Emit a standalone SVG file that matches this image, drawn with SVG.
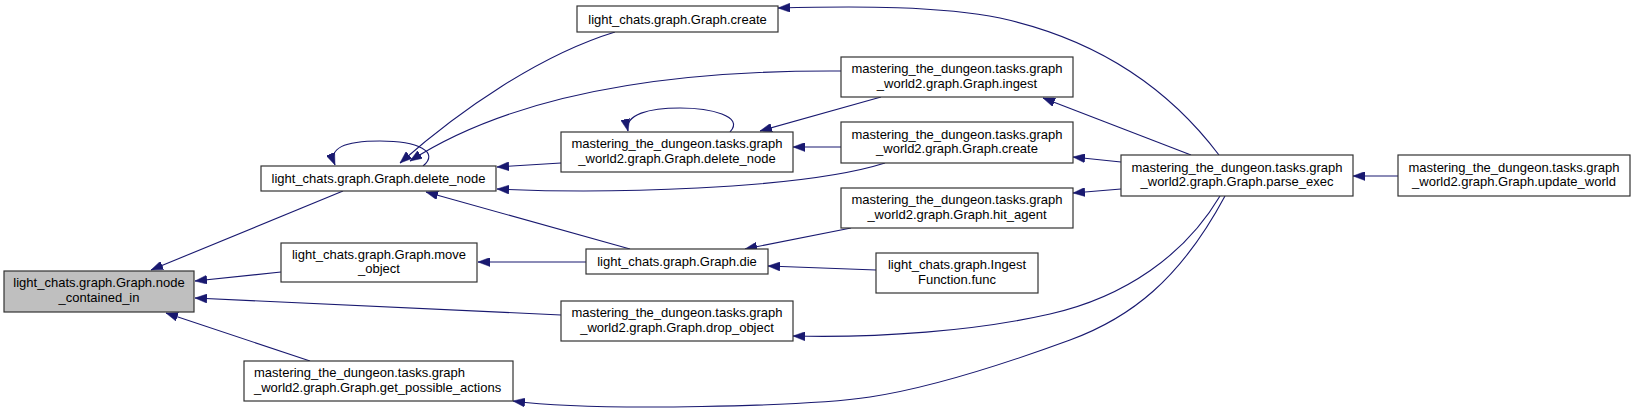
<svg xmlns="http://www.w3.org/2000/svg" width="1639" height="417" viewBox="0 0 1639 417">
<defs>
<marker id="ah" markerUnits="userSpaceOnUse" markerWidth="12" markerHeight="9" refX="12" refY="4.5" orient="auto">
<path d="M0,0 L12,4.5 L0,9 Z" fill="#191970" stroke="#191970" stroke-width="0.5"/>
</marker>
</defs>
<style>
.n rect{fill:#ffffff;stroke:#333333;stroke-width:1.2}
.n.hl rect{fill:#bfbfbf}
.n text{font-family:"Liberation Sans",Arial,sans-serif;font-size:13px;fill:#000000;text-anchor:middle}
.n text.l{text-anchor:start}
.e path{fill:none;stroke:#191970;stroke-width:1.1;marker-end:url(#ah)}
</style>
<rect width="1639" height="417" fill="#ffffff"/>
<g id="edges" class="e">
<path d="M343,191 L151,270"/>
<path d="M281,272 L195,281"/>
<path d="M561,315 L195,298"/>
<path d="M310,361 L166,313"/>
<path d="M423,166 C440,152 418,141 380,141 C344,141 328,148 335,165"/>
<path d="M615,32 C540,55 460,110 400,163"/>
<path d="M841,71 C680,70 520,90 410,161"/>
<path d="M561,163 L497,167"/>
<path d="M885,163 C800,190 600,194 497,189"/>
<path d="M630,249 L426,192"/>
<path d="M586,262 L478,262"/>
<path d="M1219,155 C1170,90 1100,40 1000,18 C940,6 860,6 778,8"/>
<path d="M730,132 C745,116 710,108 680,108 C650,108 624,114 628,131"/>
<path d="M881,97 L760,131"/>
<path d="M841,147 L793,147"/>
<path d="M1191,155 L1043,98"/>
<path d="M1121,162 L1073,157"/>
<path d="M851,228 L745,249"/>
<path d="M876,270 L768,266"/>
<path d="M1121,189 L1073,193"/>
<path d="M1220,196 C1185,255 1125,297 1050,314 C975,331 880,338 793,336"/>
<path d="M1225,196 C1180,280 1130,318 1070,340 C1010,362 930,388 870,397 C810,406 600,412 513,401"/>
<path d="M1398,176 L1353,176"/>
</g>
<g id="node_contained_in" class="n hl">
<rect x="4" y="271" width="190" height="41"/>
<text x="99" y="287">light_chats.graph.Graph.node</text>
<text x="99" y="301.5">_contained_in</text>
</g>
<g id="delete_node" class="n">
<rect x="261" y="166" width="235" height="25"/>
<text x="378.5" y="183">light_chats.graph.Graph.delete_node</text>
</g>
<g id="move_object" class="n">
<rect x="281" y="243" width="196" height="39"/>
<text x="379" y="258.5">light_chats.graph.Graph.move</text>
<text x="379" y="273">_object</text>
</g>
<g id="get_possible_actions" class="n">
<rect x="244" y="361" width="269" height="40"/>
<text class="l" x="254" y="377">mastering_the_dungeon.tasks.graph</text>
<text class="l" x="254" y="391.5">_world2.graph.Graph.get_possible_actions</text>
</g>
<g id="light_create" class="n">
<rect x="577" y="6" width="201" height="26"/>
<text x="677.5" y="23.5">light_chats.graph.Graph.create</text>
</g>
<g id="mtd_delete_node" class="n">
<rect x="561" y="132" width="232" height="40"/>
<text x="677" y="148">mastering_the_dungeon.tasks.graph</text>
<text x="677" y="162.5">_world2.graph.Graph.delete_node</text>
</g>
<g id="die" class="n">
<rect x="586" y="249" width="182" height="25"/>
<text x="677" y="266">light_chats.graph.Graph.die</text>
</g>
<g id="drop_object" class="n">
<rect x="561" y="301" width="232" height="40"/>
<text x="677" y="317">mastering_the_dungeon.tasks.graph</text>
<text x="677" y="331.5">_world2.graph.Graph.drop_object</text>
</g>
<g id="ingest" class="n">
<rect x="841" y="57" width="232" height="40"/>
<text x="957" y="73">mastering_the_dungeon.tasks.graph</text>
<text x="957" y="87.5">_world2.graph.Graph.ingest</text>
</g>
<g id="mtd_create" class="n">
<rect x="841" y="122" width="232" height="41"/>
<text x="957" y="138.5">mastering_the_dungeon.tasks.graph</text>
<text x="957" y="153">_world2.graph.Graph.create</text>
</g>
<g id="hit_agent" class="n">
<rect x="841" y="188" width="232" height="40"/>
<text x="957" y="204">mastering_the_dungeon.tasks.graph</text>
<text x="957" y="218.5">_world2.graph.Graph.hit_agent</text>
</g>
<g id="ingest_func" class="n">
<rect x="876" y="253" width="162" height="40"/>
<text x="957" y="269">light_chats.graph.Ingest</text>
<text x="957" y="283.5">Function.func</text>
</g>
<g id="parse_exec" class="n">
<rect x="1121" y="155" width="232" height="41"/>
<text x="1237" y="171.5">mastering_the_dungeon.tasks.graph</text>
<text x="1237" y="186">_world2.graph.Graph.parse_exec</text>
</g>
<g id="update_world" class="n">
<rect x="1398" y="155" width="232" height="41"/>
<text x="1514" y="171.5">mastering_the_dungeon.tasks.graph</text>
<text x="1514" y="186">_world2.graph.Graph.update_world</text>
</g>
</svg>
